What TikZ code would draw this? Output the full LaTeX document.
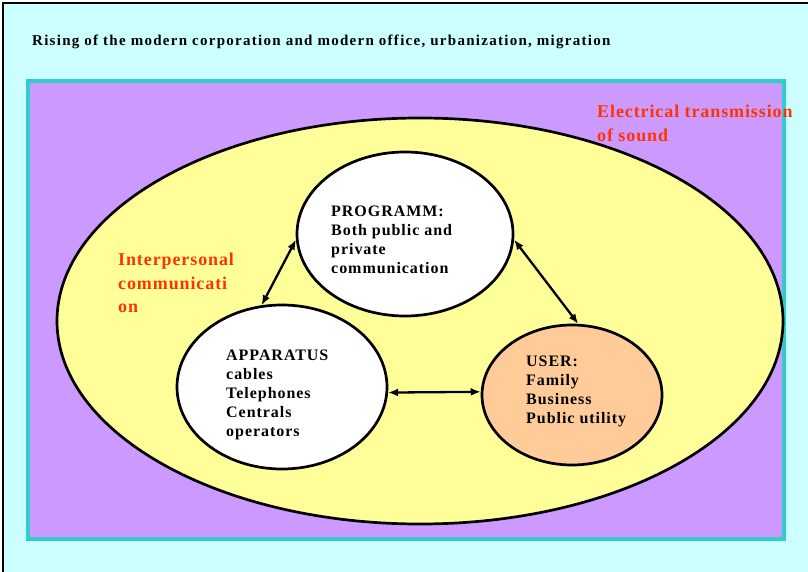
\documentclass[tikz,border=0pt]{standalone}
\usepackage{fontspec}
\setmainfont{Liberation Serif}
\newfontfamily\headfont[LetterSpace=8.5]{Liberation Serif}
\newfontfamily\boxfont[LetterSpace=6]{Liberation Serif}
\newfontfamily\redfont[LetterSpace=5]{Liberation Serif}
\usetikzlibrary{shapes.geometric, arrows.meta, positioning}

\definecolor{paleaqua}{HTML}{CCFFFF}
\definecolor{lilac}{HTML}{CC99FF}
\definecolor{framecyan}{HTML}{33CCCC}
\definecolor{paleyellow}{HTML}{FFFF99}
\definecolor{peach}{HTML}{FFCC99}
\definecolor{redtext}{HTML}{FF3300}

\begin{document}
\begin{tikzpicture}
    [x=1pt, y=-1pt,
    oval/.style={ellipse, draw=black, line width=2.7pt, inner sep=0pt},
    body/.style={align=left, inner sep=0pt, anchor=north west,
    font=\boxfont\bfseries\fontsize{16}{19}\selectfont},
    redlabel/.style={align=left, inner sep=0pt, anchor=north west, text=redtext,
    font=\redfont\bfseries\fontsize{18}{23.5}\selectfont},
    link/.style={draw, line width=2.3pt, {Latex[length=10pt,width=8pt]}-{Latex[length=10pt,width=8pt]}}]

    \useasboundingbox (0,0) rectangle (808,572);
    \clip (0,0) rectangle (808,572);

    % background frames
    \draw[line width=2.2pt, fill=paleaqua] (3,3) rectangle (840,600);
    \draw[line width=3.2pt, draw=framecyan, fill=lilac] (28,81) rectangle (784,539);

    \node[anchor=base west, inner sep=0pt, font=\headfont\bfseries\fontsize{15}{18}\selectfont]
        (rising) at (32,46) {Rising of the modern corporation and modern office, urbanization, migration};

    % ellipses
    \node[oval, fill=paleyellow, minimum width=726pt, minimum height=406pt] (sound) at (420,321) {};
    \node[oval, fill=white, minimum width=216pt, minimum height=164pt] (prog) at (405,234) {};
    \node[oval, fill=white, minimum width=210pt, minimum height=164pt] (app) at (282,387) {};
    \node[oval, fill=peach, minimum width=180pt, minimum height=140pt] (user) at (572,395) {};

    \node[redlabel] (electrical) at (597,105) {Electrical transmission\\of sound};
    \node[redlabel] (interpersonal) at (118,253) {Interpersonal\\communicati\\on};

    \node[body] (progtxt) at (331,206) {PROGRAMM:\\Both public and\\private\\communication};
    \node[body] (apptxt) at (226,350) {APPARATUS\\cables\\Telephones\\Centrals\\operators};
    \node[body] (usertxt) at (526,356) {USER:\\Family\\Business\\Public utility};

    \begin{scope}[every path/.style=link]
        \path (prog.183) -- (app.104);
        \path (prog.-3) -- (user.85);
        \path (app.-3) -- (user.178);
    \end{scope}
\end{tikzpicture}
\end{document}
